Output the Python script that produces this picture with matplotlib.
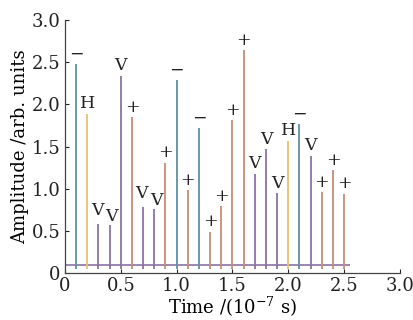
import numpy as np
import matplotlib
matplotlib.use('Agg')
import matplotlib.pyplot as plt

# pulse times (1e-7 s), amplitudes, polarisation labels
times = [0.0, 0.1, 0.2, 0.3, 0.4, 0.5, 0.6, 0.7, 0.8, 0.9, 1.0, 1.1, 1.2, 1.3,
         1.4, 1.5, 1.6, 1.7, 1.8, 1.9, 2.0, 2.1, 2.2, 2.3, 2.4, 2.5]
amps = [1.11, 2.48, 1.89, 0.58, 0.57, 2.34, 1.85, 0.78, 0.76, 1.31, 2.29, 0.98, 1.72, 0.49,
        0.79, 1.81, 2.64, 1.18, 1.47, 0.95, 1.57, 1.77, 1.39, 0.96, 1.22, 0.94]
labels = ['', '−', 'H', 'V', 'V', 'V', '+', 'V', 'V', '+', '−', '+', '−', '+',
          '+', '+', '+', 'V', 'V', 'V', 'H', '−', 'V', '+', '+', '+']
baseline = 0.1

colors = {'V': '#8a72a3', 'H': '#e6c36c', '+': '#c48e78', '−': '#5f8fa6', '': '#8a72a3'}

plt.rcParams['font.family'] = 'DejaVu Serif'
plt.rcParams['mathtext.fontset'] = 'dejavuserif'

fig = plt.figure(figsize=(4.14, 3.2), dpi=100)
ax = fig.add_axes([0.157, 0.147, 0.809, 0.79])

ax.hlines(baseline, 0, 2.55, color=colors['V'], lw=1.2, zorder=1)
for i, (t, a, lab) in enumerate(zip(times, amps, labels)):
    ax.vlines(t, 0.05, a, color=colors[lab], lw=1.3, zorder=2)
    if not lab:
        continue
    dx, dy = 0, 1
    # the close "VV" pairs are staggered in the original
    if i in (3, 7):
        dx, dy = -1, 4
    elif i in (4, 8):
        dx, dy = 1.5, 0
    ax.annotate(lab, (t, a), xytext=(dx, dy), textcoords='offset points',
                ha='center', va='bottom', fontsize=12.5, color='#222222')

ax.set_xlim(0, 3.0)
ax.set_ylim(0, 3.0)
ticks = [0, 0.5, 1.0, 1.5, 2.0, 2.5, 3.0]
ticklabels = ['0', '0.5', '1.0', '1.5', '2.0', '2.5', '3.0']
ax.set_xticks(ticks)
ax.set_xticklabels(ticklabels)
ax.set_yticks(ticks)
ax.set_yticklabels(ticklabels)
ax.tick_params(direction='in', length=3, labelsize=13, colors='#222222', pad=3)
for s in ['top', 'right']:
    ax.spines[s].set_visible(False)
for s in ['left', 'bottom']:
    ax.spines[s].set_color('#444444')
    ax.spines[s].set_linewidth(0.9)

ax.set_xlabel('Time /(10$^{-7}$ s)', fontsize=13, labelpad=0)
ax.set_ylabel('Amplitude /arb. units', fontsize=13, labelpad=2)

fig.savefig('out.png', dpi=100)
